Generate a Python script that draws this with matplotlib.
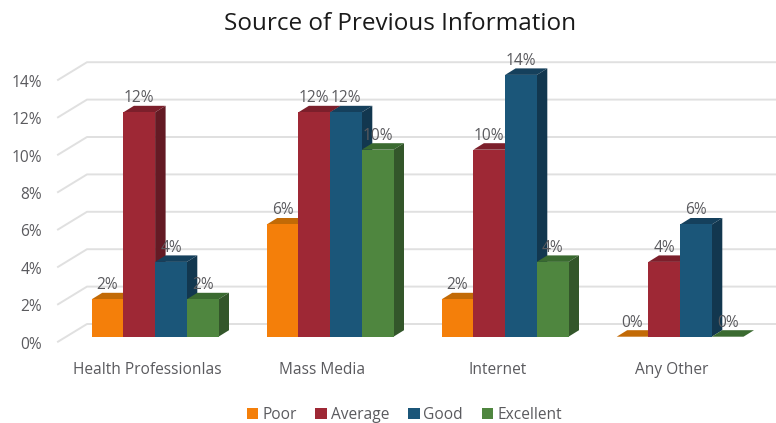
import matplotlib.pyplot as plt
from matplotlib.patches import Polygon

plt.rcParams['font.family'] = ['Open Sans', 'DejaVu Sans']

categories = ['Health Professionlas', 'Mass Media', 'Internet', 'Any Other']
poor = [2, 6, 2, 0]
average = [12, 12, 10, 4]
good = [4, 12, 14, 6]
excellent = [2, 10, 4, 0]
series_names = ['Poor', 'Average', 'Good', 'Excellent']
y_ticks = [0, 2, 4, 6, 8, 10, 12, 14]

front_colors = ['#F47F0A', '#9E2835', '#1B5679', '#4F863F']
top_colors = ['#C26A06', '#7C1F2B', '#15405C', '#3A6A30']
side_colors = ['#A85C05', '#641A24', '#12374F', '#33562A']
text_color = '#5A5A5E'

# scale of the fake 3d chart: one bar is 1 unit wide, y is in percent
px_x = 31.7
px_y = 18.7
x0 = 91.7
y0 = 336.7
group_step = 175 / px_x
depth_x = 10.5 / px_x
depth_y = 6.5 / px_y

fig = plt.figure(figsize=(7.76, 4.23), dpi=100)
ax = fig.add_axes([0, 0, 1, 1])
ax.set_xlim(-x0 / px_x, (776 - x0) / px_x)
ax.set_ylim(-(423 - y0) / px_y, y0 / px_y)
ax.axis('off')

# back wall gridlines and the short floor diagonals
wall_x = (87 - x0) / px_x
front_x = (58 - x0) / px_x
wall_dy = 12.7 / px_y
front_dy = -5.0 / px_y
for t in y_ticks:
    ax.plot([front_x, wall_x, (776 - x0) / px_x],
            [t + front_dy, t + wall_dy, t + wall_dy],
            color='#E0E0E0', lw=1.4, zorder=1, solid_joinstyle='round')
    ax.text(front_x - 0.5, t + front_dy - 0.15, f'{t}%', ha='right', va='center',
            fontsize=11.2, color=text_color)

all_series = [poor, average, good, excellent]
handles = []
for s, values in enumerate(all_series):
    lefts = [i * group_step + s for i in range(len(categories))]
    z = 3 + s
    bars = ax.bar(lefts, values, width=1, align='edge', color=front_colors[s],
                  zorder=z + 0.5, label=series_names[s], linewidth=0)
    handles.append(bars)
    for left, v in zip(lefts, values):
        ax.add_patch(Polygon([(left, v), (left + 1, v),
                              (left + 1 + depth_x, v + depth_y), (left + depth_x, v + depth_y)],
                             closed=True, fc=top_colors[s], ec='none', zorder=z))
        if v > 0:
            ax.add_patch(Polygon([(left + 1, 0), (left + 1 + depth_x, depth_y),
                                  (left + 1 + depth_x, v + depth_y), (left + 1, v)],
                                 closed=True, fc=side_colors[s], ec='none', zorder=z))
        ax.text(left + 0.5, v + 0.75, f'{v}%', ha='center', va='center',
                fontsize=11.2, color=text_color, zorder=10)

for i, name in enumerate(categories):
    ax.text(i * group_step + 1.75, -1.76, name, ha='center', va='center',
            fontsize=11.2, color=text_color)

ax.text(400 / px_x - x0 / px_x, (y0 - 24.5) / px_y, 'Source of Previous Information',
        ha='center', va='center', fontsize=17.5, color='#1A1A1A')

ax.legend(handles=handles, loc='center', bbox_to_anchor=(0.521, 0.019), ncol=4, frameon=False,
          fontsize=11.2, labelcolor=text_color, handlelength=0.75, handleheight=0.75,
          handletextpad=0.25, columnspacing=1.2, borderpad=0)

fig.savefig('out.png', dpi=100)
